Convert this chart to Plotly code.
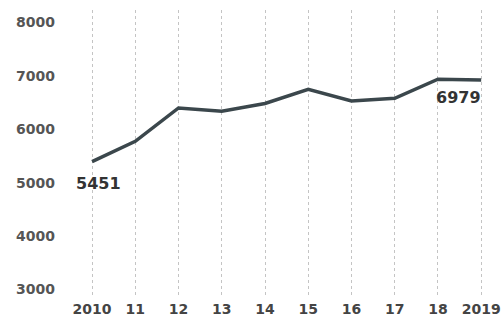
import plotly.graph_objects as go

years = [2010, 2011, 2012, 2013, 2014, 2015, 2016, 2017, 2018, 2019]
values = [5451, 5830, 6455, 6395, 6540, 6805, 6585, 6635, 6995, 6979]
x_tick_labels = ["2010", "11", "12", "13", "14", "15", "16", "17", "18", "2019"]
y_ticks = [3000, 4000, 5000, 6000, 7000, 8000]

FONT = "DejaVu Sans"
fig = go.Figure()
fig.add_trace(go.Scatter(
    x=years, y=values, mode="lines",
    line=dict(color="#3b474c", width=3.5),
    hoverinfo="skip",
))

fig.add_annotation(x=years[0], y=values[0], text="<b>5451</b>", showarrow=False,
                   xanchor="left", yanchor="top", xshift=-18, yshift=-10,
                   font=dict(family=FONT, size=16, color="#333"))
fig.add_annotation(x=years[-1], y=values[-1], text="<b>6979</b>", showarrow=False,
                   xanchor="right", yanchor="top", xshift=2, yshift=-6,
                   font=dict(family=FONT, size=16, color="#333"))

fig.update_layout(
    width=502, height=320,
    margin=dict(l=70, r=10, t=10, b=23),
    paper_bgcolor="white", plot_bgcolor="white",
    showlegend=False,
    xaxis=dict(
        range=[2010 - 0.51, 2019 + 0.25],
        tickmode="array", tickvals=years, ticktext=x_tick_labels,
        showgrid=True, gridcolor="#c4c4c4", griddash="dot", gridwidth=1,
        zeroline=False, showline=False, ticks="",
        tickfont=dict(family=FONT, size=14, color="#444", weight="bold"),
        ticklabelstandoff=2, automargin=False,
    ),
    yaxis=dict(
        range=[2915, 8290],
        tickmode="array", tickvals=y_ticks,
        showgrid=False, zeroline=False, showline=False, ticks="",
        tickfont=dict(family=FONT, size=14, color="#555", weight="bold"),
        ticklabelstandoff=14, ticklabelshift=-3, automargin=False,
    ),
)

fig.write_html("out.html")
